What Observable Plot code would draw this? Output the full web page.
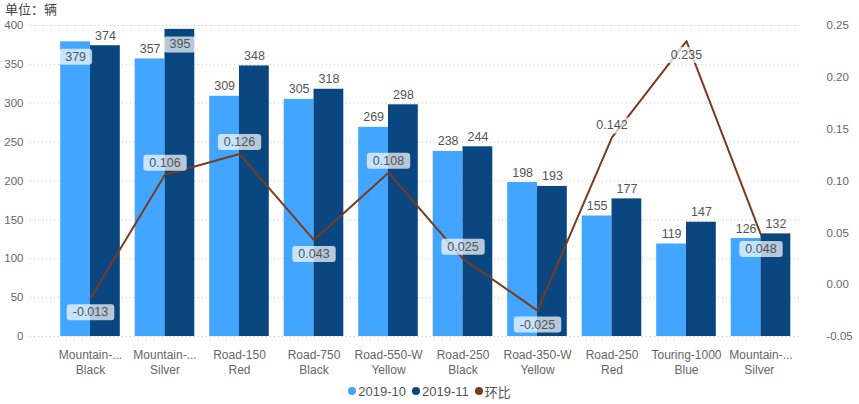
<!DOCTYPE html>
<html>
<head>
<meta charset="utf-8">
<script src="https://cdn.jsdelivr.net/npm/d3@7"></script>
<script src="https://cdn.jsdelivr.net/npm/@observablehq/plot@0.6"></script>
<style>
  body { margin: 0; background: #fff; font-family: "Liberation Sans", "Noto Sans CJK SC", sans-serif; }
  #title { height: 18px; line-height: 18px; padding-left: 5px; font-size: 13px; color: #444; font-family: "Noto Sans CJK SC", sans-serif; }
  #legend { height: 22px; display: flex; justify-content: center; align-items: center; font-size: 13px; color: #555; gap: 6px; }
  #legend span.item { display: inline-flex; align-items: center; }
  #legend span.dot { width: 8px; height: 8px; border-radius: 50%; display: inline-block; margin-right: 2px; }
</style>
</head>
<body>
<div id="title">单位：辆</div>
<div id="chart"></div>
<div id="legend"></div>
<script>
// ---- data ----
const categories = [
  "Mountain-...\nBlack", "Mountain-...\nSilver", "Road-150\nRed", "Road-750\nBlack",
  "Road-550-W\nYellow", "Road-250\nBlack", "Road-350-W\nYellow", "Road-250\nRed",
  "Touring-1000\nBlue", "Mountain-...\nSilver "
];
const seriesNames = ["2019-10", "2019-11", "环比"];
const oct = [379, 357, 309, 305, 269, 238, 198, 155, 119, 126];
const nov = [374, 395, 348, 318, 298, 244, 193, 177, 147, 132];
const mom = [-0.013, 0.106, 0.126, 0.043, 0.108, 0.025, -0.025, 0.142, 0.235, 0.048];
const leftTicks = [0, 50, 100, 150, 200, 250, 300, 350, 400];
const rightTicks = [-0.05, 0, 0.05, 0.10, 0.15, 0.20, 0.25];

// ---- chart ----
const colors = {oct: "#42A5FF", nov: "#0A4780", mom: "#7A3B1E"};
const leftDomain = [0, 400], rightDomain = [-0.05, 0.25];
const toLeft = r => leftDomain[0] + (r - rightDomain[0]) / (rightDomain[1] - rightDomain[0]) * (leftDomain[1] - leftDomain[0]);
const toRight = v => rightDomain[0] + (v - leftDomain[0]) / (leftDomain[1] - leftDomain[0]) * (rightDomain[1] - rightDomain[0]);

const labelSide = ["below","above","above","below","above","above","below","above","below","below"];
const rows = categories.map((c, i) => ({cat: c, oct: oct[i], nov: nov[i], mom: mom[i], momL: toLeft(mom[i]), side: labelSide[i]}));

const xRange = [52.75, 797.75];
const band = d3.scaleBand().domain(categories).range(xRange).paddingInner(0.2).paddingOuter(0.1);
const bw = band.bandwidth();

const inside = v => v > 375;
const fmt3 = v => v.toFixed(3);
const font = "Liberation Sans, Noto Sans CJK SC, sans-serif";
const textStyle = {fontSize: 12.5, fill: "#555", fontFamily: font};

const plot = Plot.plot({
  width: 859,
  height: 362,
  marginLeft: 30,
  marginRight: 60,
  marginTop: 7,
  marginBottom: 44,
  style: {fontFamily: font, fontSize: "12px", color: "#666", background: "#fff"},
  x: {domain: categories, range: xRange, paddingInner: 0.2, paddingOuter: 0.1, round: false, label: null},
  y: {domain: leftDomain, label: null},
  marks: [
    Plot.gridY({ticks: leftTicks, stroke: "#c8c8c8", strokeOpacity: 1, strokeDasharray: "1,3"}),
    Plot.axisY({ticks: leftTicks, anchor: "left", tickSize: 0, tickPadding: 7, label: null, fontSize: 11.5, fill: "#666"}),
    Plot.axisY({ticks: rightTicks.map(toLeft), anchor: "right", tickSize: 0, tickPadding: 27, label: null,
      tickFormat: v => toRight(v).toFixed(2), fontSize: 11.5, fill: "#666"}),
    Plot.axisX({tickSize: 0, tickPadding: 12, label: null, fontSize: 12, fill: "#666", lineHeight: 1.25}),
    Plot.barY(rows, {x: "cat", y: "oct", fill: colors.oct, insetRight: bw / 2}),
    Plot.barY(rows, {x: "cat", y: "nov", fill: colors.nov, insetLeft: bw / 2}),
    Plot.text(rows.filter(d => !inside(d.oct)), {x: "cat", y: "oct", text: d => String(d.oct), dx: -bw / 4, dy: -10, ...textStyle}),
    Plot.text(rows.filter(d => !inside(d.nov)), {x: "cat", y: "nov", text: d => String(d.nov), dx: bw / 4, dy: -10, ...textStyle}),
    Plot.line(rows, {x: "cat", y: "momL", stroke: colors.mom, strokeWidth: 2}),
    Plot.text(rows.filter(d => inside(d.oct)), {x: "cat", y: "oct", text: d => String(d.oct), dx: -bw / 4, dy: 15, className: "boxed", ...textStyle}),
    Plot.text(rows.filter(d => inside(d.nov)), {x: "cat", y: "nov", text: d => String(d.nov), dx: bw / 4, dy: 15, className: "boxed", ...textStyle}),
    Plot.text(rows.filter(d => d.side === "above"), {x: "cat", y: "momL", text: d => fmt3(d.mom), dy: -12, className: "boxed", ...textStyle}),
    Plot.text(rows.filter(d => d.side === "below"), {x: "cat", y: "momL", text: d => fmt3(d.mom), dy: 14, className: "boxed", ...textStyle})
  ]
});
document.getElementById("chart").appendChild(plot);

// translucent label boxes behind boxed labels
d3.select(plot).selectAll("g.boxed text").each(function() {
  const b = this.getBBox();
  const tr = this.getAttribute("transform");
  const padX = 6, padY = 1;
  const rect = document.createElementNS("http://www.w3.org/2000/svg", "rect");
  rect.setAttribute("x", b.x - padX);
  rect.setAttribute("y", b.y - padY);
  rect.setAttribute("width", b.width + 2 * padX);
  rect.setAttribute("height", b.height + 2 * padY);
  rect.setAttribute("rx", 3);
  rect.setAttribute("fill", "#fff");
  rect.setAttribute("fill-opacity", 0.7);
  if (tr) rect.setAttribute("transform", tr);
  this.parentNode.insertBefore(rect, this);
});

// legend
const legendColors = [colors.oct, colors.nov, colors.mom];
const legend = d3.select("#legend");
seriesNames.forEach((name, i) => {
  const item = legend.append("span").attr("class", "item");
  item.append("span").attr("class", "dot").style("background", legendColors[i]);
  item.append("span").text(name);
});
</script>
</body>
</html>
